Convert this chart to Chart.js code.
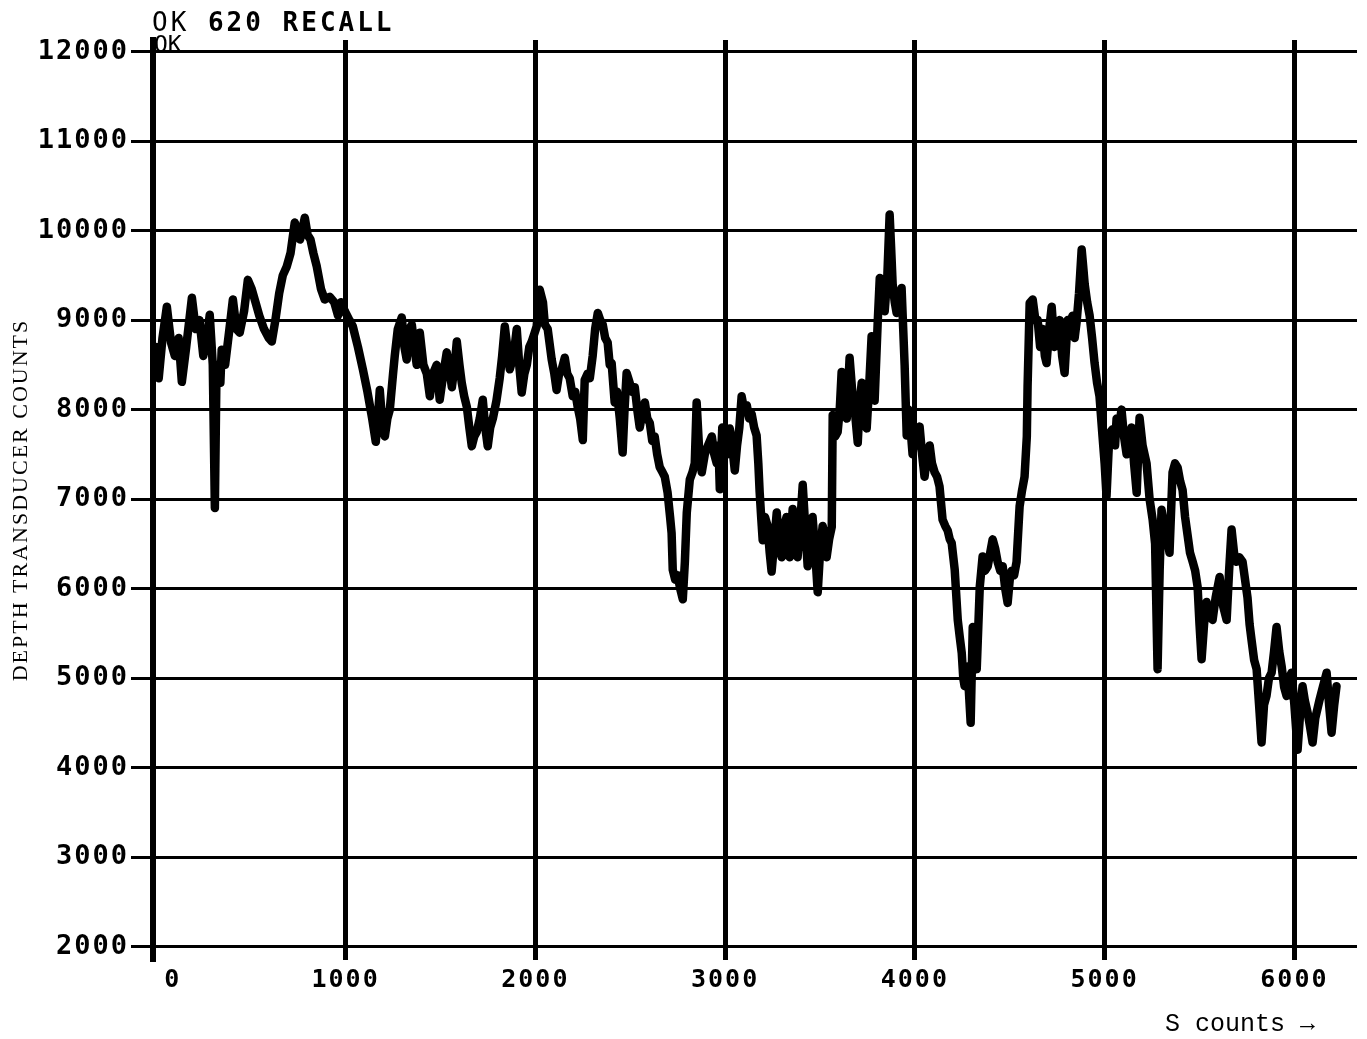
<!DOCTYPE html>
<html>
<head>
<meta charset="utf-8">
<script src="https://cdn.jsdelivr.net/npm/chart.js@4.4.0/dist/chart.umd.min.js"></script>
<style>
  body { margin: 0; background: #fff; }
  #marco { position: relative; width: 1367px; height: 1039px; background: #fff; }
  .texto { position: absolute; color: #000; white-space: pre; line-height: 1; }
</style>
</head>
<body>
<div id="marco">
  <canvas id="grafico" width="1367" height="1039"></canvas>
  <div class="texto" style="left:152px; top:7px; font: bold 26px 'DejaVu Sans Mono'; letter-spacing: 3px;"><span style="font-weight:normal">OK</span> 620 RECALL</div>
  <div class="texto" style="left:154px; top:31px; font: 23px 'DejaVu Sans Mono';">OK</div>
  <div class="texto" style="left:1165px; top:1010px; font: 25px 'Liberation Mono';">S counts →</div>
</div>
<script>
// Valores (S counts contra cuentas del transductor)
const sCounts = [
  0, 15, 35, 58, 80, 100, 120, 137, 160, 190, 210, 230,
  250, 270, 284, 300, 311, 320, 340, 347, 365, 385, 406, 425,
  442, 465, 485, 505, 525, 545, 570, 595, 611, 630, 650, 669,
  690, 710, 732, 760, 785, 800, 815, 830, 848, 870, 890, 917,
  940, 960, 975, 996, 1020, 1038, 1065, 1091, 1115, 1140, 1159, 1170,
  1180, 1195, 1207, 1220, 1233, 1250, 1259, 1275, 1296, 1310, 1322, 1335,
  1349, 1362, 1375, 1391, 1410, 1428, 1444, 1460, 1480, 1496, 1515, 1533,
  1547, 1560, 1575, 1586, 1600, 1612, 1625, 1639, 1652, 1665, 1678, 1691,
  1707, 1723, 1736, 1749, 1762, 1776, 1795, 1812, 1825, 1839, 1852, 1865,
  1885, 1902, 1915, 1928, 1942, 1955, 1968, 1981, 1995, 2007, 2023, 2040,
  2050, 2065, 2086, 2100, 2112, 2125, 2139, 2155, 2168, 2181, 2197, 2210,
  2223, 2236, 2250, 2260, 2275, 2287, 2302, 2315, 2329, 2342, 2355, 2368,
  2381, 2392, 2402, 2418, 2430, 2445, 2460, 2470, 2481, 2497, 2510, 2524,
  2537, 2550, 2563, 2577, 2590, 2603, 2616, 2629, 2642, 2655, 2670, 2682,
  2697, 2710, 2718, 2724, 2737, 2750, 2763, 2777, 2788, 2798, 2814, 2828,
  2840, 2850, 2862, 2877, 2893, 2910, 2930, 2943, 2956, 2965, 2972, 2985,
  2998, 3010, 3024, 3037, 3051, 3063, 3075, 3087, 3100, 3114, 3127, 3140,
  3153, 3166, 3175, 3182, 3190, 3198, 3210, 3224, 3235, 3245, 3258, 3272,
  3285, 3298, 3311, 3324, 3332, 3340, 3348, 3356, 3370, 3382, 3395, 3409,
  3422, 3435, 3448, 3461, 3475, 3488, 3500, 3514, 3525, 3535, 3548, 3562,
  3567, 3580, 3593, 3604, 3614, 3628, 3641, 3656, 3670, 3683, 3699, 3710,
  3720, 3733, 3746, 3760, 3772, 3788, 3804, 3815, 3828, 3841, 3855, 3867,
  3875, 3883, 3894, 3904, 3918, 3930, 3946, 3957, 3965, 3973, 3988, 4000,
  4010, 4025, 4038, 4051, 4065, 4078, 4090, 4104, 4117, 4130, 4146, 4160,
  4173, 4184, 4194, 4210, 4226, 4237, 4247, 4255, 4262, 4270, 4278, 4286,
  4294, 4305, 4315, 4326, 4342, 4357, 4370, 4384, 4397, 4410, 4423, 4436,
  4450, 4463, 4476, 4489, 4500, 4510, 4523, 4536, 4552, 4565, 4578, 4590,
  4594, 4605, 4621, 4635, 4647, 4660, 4673, 4685, 4694, 4708, 4721, 4736,
  4750, 4763, 4776, 4789, 4805, 4818, 4831, 4842, 4852, 4865, 4879, 4887,
  4895, 4908, 4921, 4934, 4947, 4960, 4973, 4989, 5000, 5010, 5020, 5026,
  5042, 5055, 5063, 5075, 5089, 5102, 5116, 5130, 5142, 5155, 5169, 5184,
  5200, 5221, 5237, 5253, 5266, 5279, 5290, 5300, 5314, 5327, 5342, 5358,
  5371, 5385, 5398, 5411, 5424, 5437, 5450, 5464, 5477, 5490, 5500, 5511,
  5524, 5537, 5550, 5569, 5585, 5606, 5625, 5643, 5656, 5669, 5682, 5695,
  5710, 5727, 5740, 5753, 5764, 5774, 5788, 5801, 5814, 5827, 5840, 5853,
  5866, 5880, 5893, 5906, 5920, 5933, 5946, 5959, 5972, 5985, 6000, 6017,
  6030, 6043, 6055, 6070, 6083, 6096, 6110, 6133, 6150, 6170, 6183, 6196, 6210, 6222
];
const depthCounts = [
  8700, 8350, 8800, 9150, 8750, 8600, 8800, 8310, 8700, 9250, 8900, 9000,
  8600, 8800, 9060, 8500, 6900, 8500, 8300, 8670, 8500, 8850, 9230, 8900,
  8860, 9100, 9450, 9350, 9200, 9050, 8900, 8800, 8760, 9000, 9300, 9500,
  9600, 9750, 10090, 9900, 10145, 9950, 9900, 9750, 9600, 9350, 9230, 9260,
  9200, 9050, 9200, 9100, 9000, 8930, 8700, 8450, 8200, 7900, 7640, 7900,
  8220, 7800, 7700, 7900, 8000, 8400, 8600, 8900, 9030, 8700, 8560, 8900,
  8950, 8700, 8500, 8860, 8500, 8400, 8150, 8400, 8500, 8110, 8400, 8640,
  8450, 8250, 8500, 8760, 8500, 8300, 8150, 8030, 7800, 7590, 7700, 7750,
  7900, 8110, 7800, 7590, 7800, 7900, 8100, 8350, 8600, 8930, 8700, 8450,
  8600, 8900, 8500, 8190, 8400, 8500, 8700, 8760, 8850, 8930, 9340, 9200,
  8950, 8900, 8560, 8400, 8220, 8400, 8450, 8580, 8400, 8350, 8150, 8200,
  8030, 7900, 7660, 8330, 8400, 8350, 8600, 8900, 9080, 9000, 8950, 8800,
  8750, 8500, 8520, 8080, 8200, 7900, 7520, 8000, 8410, 8300, 8200, 8250,
  8000, 7800, 7950, 8080, 7900, 7850, 7650, 7700, 7500, 7360, 7300, 7250,
  7070, 6800, 6620, 6210, 6100, 6150, 6000, 5880, 6300, 6850, 7220, 7300,
  7400, 8080, 7600, 7300, 7500, 7600, 7700, 7500, 7400, 7600, 7110, 7800,
  7700, 7500, 7790, 7600, 7320, 7600, 7800, 8150, 8000, 8050, 7900, 7950,
  7800, 7710, 7400, 7080, 6800, 6540, 6800, 6700, 6400, 6190, 6500, 6850,
  6500, 6350, 6700, 6800, 6500, 6350, 6600, 6890, 6600, 6350, 6700, 7160,
  6700, 6250, 6500, 6800, 6400, 5960, 6400, 6700, 6600, 6350, 6550, 6690,
  7940, 7700, 7750, 8000, 8420, 8100, 7900, 8580, 8200, 8000, 7630, 8100,
  8300, 8000, 7790, 8300, 8820, 8100, 8970, 9470, 9300, 9100, 9500, 10180,
  9800, 9400, 9200, 9080, 9200, 9360, 8500, 7710, 8000, 7900, 7500, 7800,
  7600, 7810, 7500, 7250, 7500, 7600, 7400, 7300, 7250, 7140, 6770, 6700,
  6650, 6550, 6510, 6210, 5650, 5450, 5280, 5000, 4910, 5000, 5130, 4800,
  4500, 5570, 5300, 5100, 6020, 6360, 6200, 6250, 6400, 6550, 6450, 6300,
  6200, 6250, 6000, 5840, 6100, 6200, 6150, 6300, 6920, 7100, 7250, 7700,
  8260, 9190, 9230, 9000, 9000, 8700, 8900, 8600, 8520, 8900, 9150, 8700,
  8800, 9000, 8600, 8410, 9000, 8900, 9050, 8800, 8970, 9300, 9790, 9600,
  9400, 9200, 9050, 8800, 8520, 8300, 8150, 7700, 7400, 7030, 7500, 7740,
  7780, 7600, 7900, 7800, 8000, 7700, 7500, 7700, 7800, 7400, 7070, 7910,
  7600, 7400, 7000, 6770, 6500, 5100, 6200, 6880, 6700, 6600, 6400, 7300,
  7400, 7350, 7200, 7100, 6800, 6600, 6400, 6300, 6200, 6020, 5600, 5210,
  5600, 5850, 5700, 5650, 5900, 6130, 5800, 5650, 6200, 6660, 6400, 6300,
  6350, 6300, 6100, 5900, 5600, 5430, 5200, 5100, 4700, 4280, 4700, 4800,
  5000, 5060, 5300, 5570, 5300, 5130, 4900, 4800, 5000, 5060, 4700, 4200,
  4600, 4910, 4750, 4610, 4450, 4280, 4550, 4760, 4900, 5060, 4700, 4390, 4700, 4910
];

// Marcas de los ejes
const xTicks = [0, 1000, 2000, 3000, 4000, 5000, 6000];
const yTicks = [2000, 3000, 4000, 5000, 6000, 7000, 8000, 9000, 10000, 11000, 12000];

// Espaciado de letras para imitar la fuente del trazador
const espaciado = {
  id: 'espaciado',
  beforeDraw(chart) { chart.ctx.letterSpacing = '2px'; },
  afterDraw(chart) { chart.ctx.letterSpacing = '0px'; }
};

const fuenteEjes = { family: 'DejaVu Sans Mono', weight: 'bold' };

const ctx = document.getElementById('grafico').getContext('2d');
const grafico = new Chart(ctx, {
  type: 'line',
  data: {
    datasets: [{
      data: sCounts.map((s, i) => ({ x: s, y: depthCounts[i] })),
      borderColor: '#000',
      borderWidth: 8.5,
      borderJoinStyle: 'round',
      borderCapStyle: 'round',
      pointRadius: 0,
      tension: 0,
      fill: false
    }]
  },
  options: {
    responsive: false,
    animation: false,
    layout: { padding: { top: 40, right: 10, left: 0, bottom: 0 } },
    plugins: { legend: { display: false }, tooltip: { enabled: false } },
    scales: {
      x: {
        type: 'linear',
        min: -15,
        max: 6330,
        afterBuildTicks: s => { s.ticks = xTicks.map(v => ({ value: v })); },
        afterFit: s => { s.height = 79; },
        border: { display: false },
        grid: {
          color: c => (c.tick && c.tick.value === 0) ? 'rgba(0,0,0,0)' : '#000',
          lineWidth: 5,
          drawTicks: false
        },
        ticks: {
          color: '#000',
          font: { ...fuenteEjes, size: 25 },
          padding: 5,
          maxRotation: 0,
          autoSkip: false,
          callback: v => v === 0 ? '  0' : String(v)
        }
      },
      y: {
        min: 1850,
        max: 12130,
        afterBuildTicks: s => { s.ticks = yTicks.map(v => ({ value: v })); },
        afterFit: s => { s.width = 153; },
        border: { display: true, color: '#000', width: 6 },
        grid: { color: '#000', lineWidth: 3, tickLength: 22 },
        ticks: {
          color: '#000',
          font: { ...fuenteEjes, size: 27 },
          padding: 2,
          autoSkip: false,
          callback: v => String(v)
        },
        title: {
          display: true,
          text: 'DEPTH TRANSDUCER COUNTS',
          color: '#000',
          font: { family: 'Liberation Serif', size: 22 },
          padding: { top: 8, bottom: 0 }
        }
      }
    }
  },
  plugins: [espaciado]
});
</script>
</body>
</html>
